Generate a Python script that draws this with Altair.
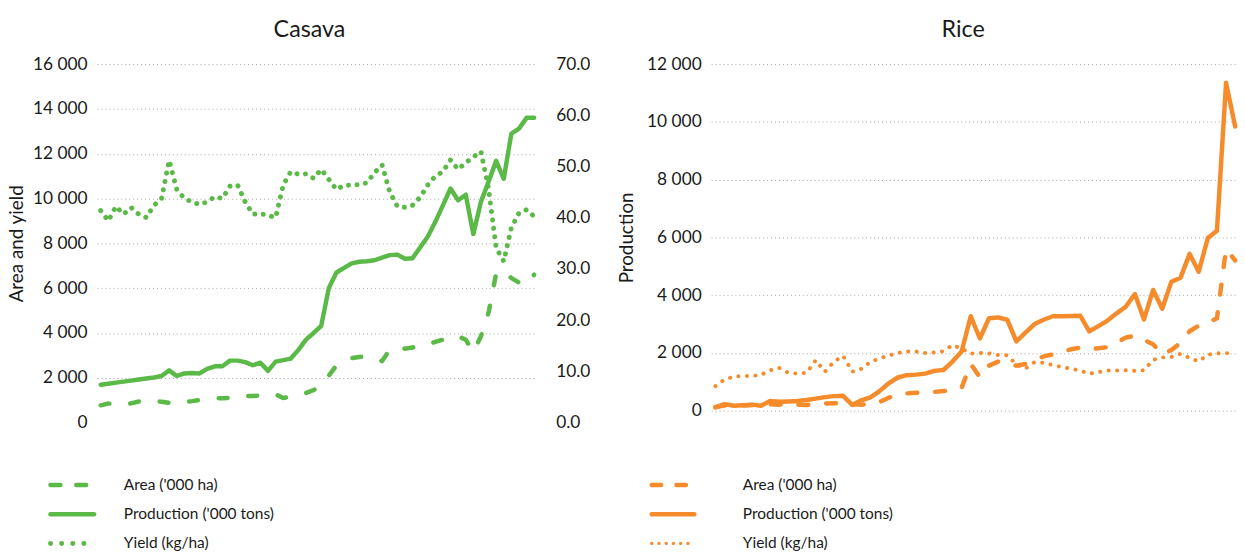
import altair as alt
import pandas as pd

years = list(range(1961, 2019))

# ---------------- Casava ----------------
cas_area = [770, 850, 830, 820, 860, 940, 960, 960, 930, 880,
            880, 920, 960, 1010, 1050, 1080, 1090, 1100, 1130, 1180,
            1190, 1200, 1230, 1260, 1100, 1150, 1240, 1320, 1450, 1700,
            2100, 2550, 2750, 2880, 2930, 2950, 2850, 2750, 3250, 3380,
            3300, 3350, 3450, 3500, 3600, 3700, 3850, 3850, 3700, 3150,
            3850, 4900, 6650, 6780, 6450, 6250, 6150, 6600]
# production on the right axis (0-70)
cas_prod = [7.4, 7.6, 7.8, 8.0, 8.2, 8.4, 8.6, 8.8, 9.1, 10.2,
            9.1, 9.6, 9.7, 9.6, 10.5, 11.0, 11.0, 12.1, 12.1, 11.8,
            11.2, 11.7, 10.1, 11.9, 12.2, 12.5, 14.2, 16.2, 17.5, 18.9,
            26.3, 29.3, 30.2, 31.1, 31.4, 31.5, 31.7, 32.2, 32.7, 32.8,
            32.0, 32.1, 34.2, 36.3, 39.2, 42.4, 45.7, 43.4, 44.5, 36.8,
            43.1, 47.0, 51.1, 47.6, 56.4, 57.4, 59.5, 59.5]
cas_yield = [9460, 9000, 9650, 9300, 9600, 9300, 9150, 9690, 10000, 11700,
             10400, 10000, 9850, 9730, 9850, 10080, 10000, 10550, 10600, 9850,
             9300, 9320, 9250, 9150, 10600, 11200, 11080, 11100, 10900, 11300,
             10850, 10400, 10590, 10590, 10620, 10700, 11150, 11500, 10300, 9650,
             9610, 9700, 10050, 10600, 11000, 11200, 11720, 11300, 11600, 11850,
             12100, 10450, 7800, 7200, 8700, 9350, 9500, 9200]

# ---------------- Rice ----------------
rice_area = [130, 180, 190, 180, 200, 190, 220, 210, 230, 210,
             200, 220, 250, 260, 250, 230, 210, 240, 300, 450,
             560, 600, 620, 640, 650, 680, 720, 800, 1620, 1160,
             1560, 1700, 1620, 1560, 1620, 1750, 1880, 1950, 2030, 2130,
             2180, 2130, 2160, 2200, 2360, 2530, 2600, 2450, 2300, 1950,
             2100, 2350, 2750, 2950, 3050, 3200, 5600, 5200]
rice_prod = [115, 230, 170, 190, 210, 175, 340, 310, 320, 335,
             370, 420, 470, 505, 515, 200, 360, 460, 680, 950,
             1150, 1230, 1250, 1285, 1380, 1410, 1700, 2050, 3270, 2500,
             3200, 3230, 3150, 2400, 2700, 3000, 3150, 3270, 3270, 3280,
             3290, 2750, 2930, 3120, 3370, 3600, 4040, 3160, 4180, 3530,
             4460, 4600, 5430, 4810, 5980, 6230, 11350, 9840]
rice_yield = [850, 1080, 1180, 1200, 1200, 1240, 1400, 1480, 1310, 1285,
              1310, 1750, 1350, 1700, 1900, 1350, 1450, 1690, 1810, 1910,
              2000, 2050, 2050, 1995, 2015, 2060, 2270, 2150, 1980, 2000,
              1985, 1930, 1920, 1600, 1460, 1680, 1660, 1580, 1510, 1455,
              1390, 1280, 1340, 1390, 1390, 1400, 1380, 1400, 1760, 1845,
              1860, 1970, 1830, 1710, 1940, 1985, 1995, 1980]

series_names = ["Area ('000 ha)", "Production ('000 tons)", "Yield (kg/ha)"]
left_ticks = [0, 2000, 4000, 6000, 8000, 10000, 12000, 14000, 16000]
right_ticks = [0, 10, 20, 30, 40, 50, 60, 70]
rice_ticks = [0, 2000, 4000, 6000, 8000, 10000, 12000]

cas = pd.DataFrame({"year": years, "area": cas_area, "prod": cas_prod, "yld": cas_yield})
rice = pd.DataFrame({"year": years, "area": rice_area, "prod": rice_prod, "yld": rice_yield})
leg = pd.DataFrame({"series": series_names})

GREEN = "#5BB947"
ORANGE = "#F68B2C"
FONT = "Lato"
TXT = "#1a1a1a"
GRID = "#a6a6a6"
num_fmt = "replace(format(datum.value, ',d'), ',', ' ')"

def axis_common(**kw):
    base = dict(domain=False, ticks=False, tickSize=0, labelFont=FONT, labelFontSize=17.5,
                labelColor=TXT, titleFont=FONT, titleFontSize=19, titleFontWeight="normal",
                titleColor=TXT)
    base.update(kw)
    return alt.Axis(**base)

# ---- Casava panel ----
cx = alt.X("year:Q", axis=None, scale=alt.Scale(domain=[1960.52, 2018.09], nice=False, zero=False))
cas_left_scale = alt.Scale(domain=[0, 16000], nice=False)
cas_left_axis = axis_common(title="Area and yield", values=left_ticks, labelExpr=num_fmt,
                            grid=True, gridDash=[1, 3], gridColor=GRID,
                            gridOpacity={"condition": {"test": "datum.value === 0", "value": 0}, "value": 1},
                            labelPadding=10, titlePadding=6)
cas_right_axis = axis_common(title=None, orient="right", values=right_ticks, format=".1f",
                             grid=False, labelPadding=21)

c_area = alt.Chart(cas).mark_line(color=GREEN, strokeWidth=4.5, strokeDash=[9, 21],
                                  strokeCap="round").encode(
    x=cx, y=alt.Y("area:Q", scale=cas_left_scale, axis=cas_left_axis))
c_yield = alt.Chart(cas).mark_line(color=GREEN, strokeWidth=5, strokeDash=[0.1, 8.5],
                                   strokeCap="round").encode(
    x=cx, y=alt.Y("yld:Q", scale=cas_left_scale, axis=cas_left_axis))
c_prod = alt.Chart(cas).mark_line(color=GREEN, strokeWidth=4.5, strokeCap="round",
                                  strokeJoin="round").encode(
    x=cx, y=alt.Y("prod:Q", scale=alt.Scale(domain=[0, 70], nice=False), axis=cas_right_axis))

cas_chart = alt.layer(alt.layer(c_area, c_yield), c_prod).resolve_scale(y="independent").properties(
    width=442, height=362,
    title=alt.Title("Casava", font=FONT, fontSize=23.5, fontWeight="normal", color=TXT,
                    anchor="middle", frame="group", dx=-6.5, offset=14))

# ---- Rice panel ----
rx = alt.X("year:Q", axis=None, scale=alt.Scale(domain=[1960.53, 2018.1], nice=False, zero=False))
rice_scale = alt.Scale(domain=[0, 12000], nice=False)
rice_axis = axis_common(title="Production", values=rice_ticks, labelExpr=num_fmt, grid=True,
                        gridDash=[1, 3], gridColor=GRID, labelPadding=10, titlePadding=10)

r_area = alt.Chart(rice).mark_line(color=ORANGE, strokeWidth=4.5, strokeDash=[10, 18],
                                   strokeCap="round").encode(
    x=rx, y=alt.Y("area:Q", scale=rice_scale, axis=rice_axis))
r_yield = alt.Chart(rice).mark_line(color=ORANGE, strokeWidth=4, strokeDash=[0.1, 8.5],
                                    strokeCap="round").encode(
    x=rx, y=alt.Y("yld:Q", scale=rice_scale, axis=rice_axis))
r_prod = alt.Chart(rice).mark_line(color=ORANGE, strokeWidth=4.5, strokeCap="round",
                                   strokeJoin="round").encode(
    x=rx, y=alt.Y("prod:Q", scale=rice_scale, axis=rice_axis))

rice_chart = alt.layer(r_area, r_yield, r_prod).properties(
    width=530, height=350,
    title=alt.Title("Rice", font=FONT, fontSize=23.5, fontWeight="normal", color=TXT,
                    anchor="middle", frame="group", dx=-10.5, offset=14))

# ---- Legends (placed relative to each panel's plot origin) ----
def legend(color, x1, x2, xt, styles):
    ys = alt.Y("series:N", axis=None,
               scale=alt.Scale(type="point", domain=series_names, range=[9, 68], padding=0))
    layers = []
    for name, (dash, w) in zip(series_names, styles):
        kw = dict(color=color, strokeWidth=w, strokeCap="round")
        if dash:
            kw["strokeDash"] = dash
        layers.append(
            alt.Chart(leg).transform_filter(alt.datum.series == name).mark_rule(**kw).encode(
                x=alt.value(x1), x2=alt.value(x2), y=ys))
    layers.append(
        alt.Chart(leg).mark_text(align="left", baseline="middle", font=FONT, fontSize=15.6,
                                 color=TXT).encode(x=alt.value(xt), y=ys, text="series:N"))
    return alt.layer(*layers).properties(width=300, height=69)

leg_c = legend(GREEN, -47, -3, 27, [([10, 16], 4.5), (None, 4.5), ([0.1, 11.1], 5)])
leg_r = legend(ORANGE, -60, -17, 32, [([9.5, 15.5], 4.5), (None, 4.5), ([0.1, 7.2], 3.3)])

col_c = alt.vconcat(cas_chart, leg_c, spacing=44)
col_r = alt.vconcat(rice_chart, leg_r, spacing=56)

chart = alt.hconcat(col_c, col_r, spacing=26).properties(
    padding={"left": 7, "top": 15, "right": 0, "bottom": 0}
).configure_view(stroke="transparent")

chart.save("out.html", embed_options={"renderer": "svg", "actions": False})
